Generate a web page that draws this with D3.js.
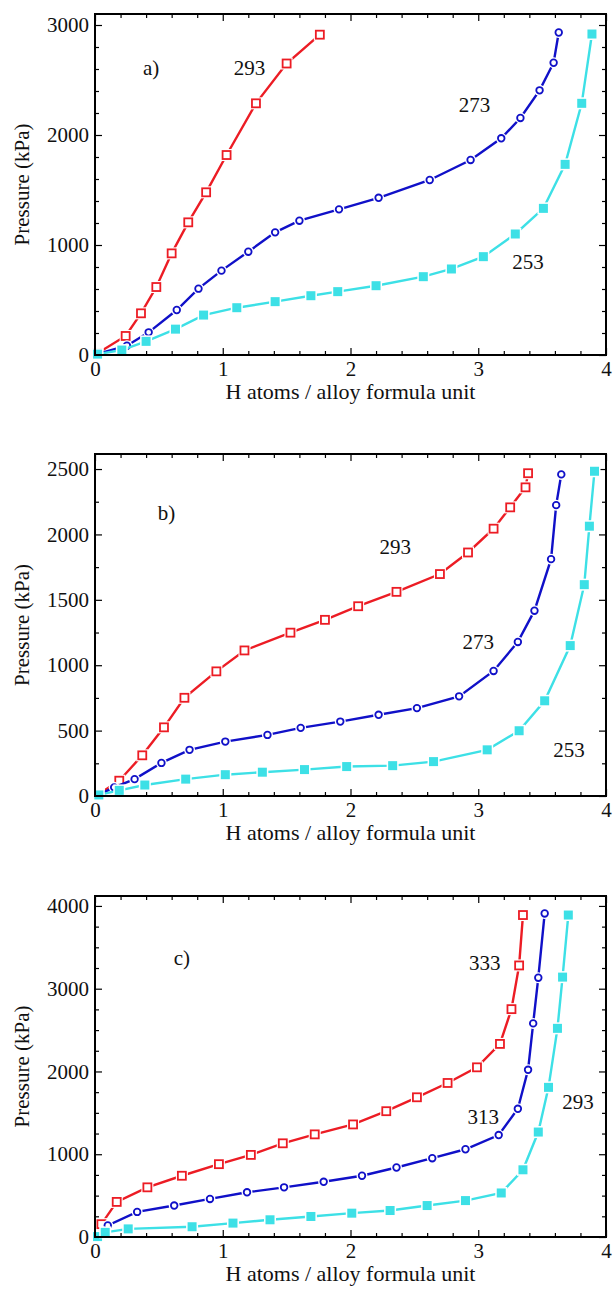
<!DOCTYPE html>
<html>
<head>
<meta charset="utf-8">
<script src="https://cdn.jsdelivr.net/npm/d3@7"></script>
<style>
  body { margin: 0; background: #fff; }
  text { font-family: "Liberation Serif", "DejaVu Serif", serif; }
</style>
</head>
<body>
<div id="d3"></div>
<script>
// panel a
const aRedX = [0.02, 0.24, 0.36, 0.48, 0.60, 0.73, 0.87, 1.03, 1.26, 1.50, 1.76];
const aRedY = [15, 173, 379, 618, 924, 1206, 1479, 1818, 2288, 2650, 2912];
const aBlueX = [0.02, 0.25, 0.42, 0.64, 0.81, 0.99, 1.20, 1.41, 1.60, 1.91, 2.22, 2.62, 2.94, 3.18, 3.33, 3.48, 3.59, 3.63];
const aBlueY = [10, 84, 206, 409, 603, 767, 939, 1115, 1221, 1324, 1429, 1591, 1773, 1970, 2155, 2406, 2657, 2932];
const aCyanX = [0.02, 0.21, 0.40, 0.63, 0.85, 1.11, 1.41, 1.69, 1.90, 2.20, 2.57, 2.79, 3.04, 3.29, 3.51, 3.68, 3.81, 3.89];
const aCyanY = [8, 45, 124, 235, 363, 430, 485, 539, 576, 630, 712, 782, 894, 1100, 1333, 1733, 2288, 2918];

// panel b
const bRedX = [0.03, 0.19, 0.37, 0.54, 0.70, 0.95, 1.17, 1.53, 1.80, 2.06, 2.36, 2.70, 2.92, 3.12, 3.25, 3.37, 3.39];
const bRedY = [15, 117, 311, 525, 751, 953, 1113, 1249, 1347, 1451, 1561, 1697, 1862, 2044, 2207, 2360, 2468];
const bBlueX = [0.03, 0.15, 0.31, 0.52, 0.74, 1.02, 1.35, 1.61, 1.92, 2.22, 2.52, 2.85, 3.12, 3.31, 3.44, 3.57, 3.61, 3.65];
const bBlueY = [10, 66, 129, 253, 353, 416, 467, 521, 569, 621, 672, 762, 956, 1178, 1417, 1811, 2224, 2459];
const bCyanX = [0.03, 0.19, 0.39, 0.71, 1.02, 1.31, 1.64, 1.97, 2.33, 2.65, 3.07, 3.32, 3.52, 3.72, 3.83, 3.87, 3.91];
const bCyanY = [8, 43, 84, 129, 163, 182, 202, 225, 232, 263, 353, 499, 728, 1150, 1616, 2063, 2483];

// panel c
const cRedX = [0.02, 0.05, 0.17, 0.41, 0.68, 0.97, 1.22, 1.47, 1.72, 2.02, 2.28, 2.52, 2.76, 2.99, 3.17, 3.26, 3.32, 3.35];
const cRedY = [10, 155, 424, 600, 740, 880, 992, 1132, 1240, 1360, 1520, 1688, 1861, 2050, 2333, 2753, 3281, 3890];
const cBlueX = [0.02, 0.10, 0.33, 0.62, 0.90, 1.19, 1.48, 1.79, 2.09, 2.36, 2.64, 2.90, 3.16, 3.31, 3.39, 3.43, 3.47, 3.52];
const cBlueY = [10, 140, 303, 380, 460, 540, 600, 667, 740, 840, 952, 1060, 1232, 1549, 2020, 2581, 3133, 3909];
const cCyanX = [0.02, 0.08, 0.26, 0.76, 1.08, 1.37, 1.69, 2.01, 2.31, 2.60, 2.90, 3.18, 3.35, 3.47, 3.55, 3.62, 3.66, 3.705];
const cCyanY = [5, 56, 98, 124, 168, 208, 248, 288, 320, 380, 440, 532, 812, 1268, 1808, 2521, 3140, 3890];

// ticks
const xTicks = [0, 1, 2, 3, 4];
const aYTicks = [0, 1000, 2000, 3000];
const bYTicks = [0, 500, 1000, 1500, 2000, 2500];
const cYTicks = [0, 1000, 2000, 3000, 4000];

// curve labels: [text, x, y]
const aLabels = [["a)", 0.44, 2610], ["293", 1.21, 2610], ["273", 2.97, 2273], ["253", 3.39, 845]];
const bLabels = [["b)", 0.56, 2164], ["293", 2.35, 1904], ["273", 3.0, 1177], ["253", 3.71, 352]];
const cLabels = [["c)", 0.68, 3371], ["333", 3.05, 3310], ["313", 3.04, 1450], ["293", 3.78, 1631]];

const RED = "#ec1c24";
const BLUE = "#1010c8";
const CYAN = "#3de0e6";

const svg = d3.select("#d3")
    .append("svg")
    .attr("width", 616)
    .attr("height", 1292);

function zip(xs, ys) {
    return xs.map((x, i) => [x, ys[i]]);
}

function drawPanel(top, bottom, yMax, yTicks, yMinorStep, series, labels) {
    const left = 95, right = 606;
    const x = d3.scaleLinear().domain([0, 4]).range([left, right]);
    const y = d3.scaleLinear().domain([0, yMax]).range([bottom, top]);

    const g = svg.append("g");

    const xMinor = d3.range(0, 4.001, 0.2).filter(v => Math.abs(v - Math.round(v)) > 1e-6);
    const yMinor = d3.range(0, yMax, yMinorStep).filter(v => !yTicks.includes(v));

    // major + minor ticks on all four sides, pointing in
    g.append("g").attr("transform", `translate(0,${bottom})`)
        .call(d3.axisBottom(x).tickValues(xTicks).tickSize(-7).tickPadding(6).tickFormat(d3.format("d")));
    g.append("g").attr("transform", `translate(0,${bottom})`)
        .call(d3.axisBottom(x).tickValues(xMinor).tickSize(-4).tickFormat(""));
    g.append("g").attr("transform", `translate(0,${top})`)
        .call(d3.axisTop(x).tickValues(xTicks).tickSize(-7).tickFormat(""));
    g.append("g").attr("transform", `translate(0,${top})`)
        .call(d3.axisTop(x).tickValues(xMinor).tickSize(-4).tickFormat(""));

    g.append("g").attr("transform", `translate(${left},0)`)
        .call(d3.axisLeft(y).tickValues(yTicks).tickSize(-7).tickPadding(6).tickFormat(d3.format("d")));
    g.append("g").attr("transform", `translate(${left},0)`)
        .call(d3.axisLeft(y).tickValues(yMinor).tickSize(-4).tickFormat(""));
    g.append("g").attr("transform", `translate(${right},0)`)
        .call(d3.axisRight(y).tickValues(yTicks).tickSize(-7).tickFormat(""));
    g.append("g").attr("transform", `translate(${right},0)`)
        .call(d3.axisRight(y).tickValues(yMinor).tickSize(-4).tickFormat(""));

    g.selectAll(".domain").remove();
    g.selectAll(".tick line").attr("stroke", "#000").attr("stroke-width", 1.2);
    g.selectAll(".tick text")
        .attr("font-family", "Liberation Serif")
        .attr("font-size", 21)
        .attr("fill", "#111");

    const line = d3.line().x(d => x(d[0])).y(d => y(d[1]));

    series.forEach(s => {
        const pts = zip(s.xs, s.ys);
        g.append("path")
            .datum(pts)
            .attr("fill", "none")
            .attr("stroke", s.color)
            .attr("stroke-width", 2.4)
            .attr("d", line);

        // white halo leaves a small gap in the line round each marker
        const m = g.append("g");
        pts.forEach(p => {
            const cx = x(p[0]), cy = y(p[1]);
            if (s.shape === "circle") {
                m.append("circle").attr("cx", cx).attr("cy", cy).attr("r", 5.5).attr("fill", "#fff");
                m.append("circle").attr("cx", cx).attr("cy", cy).attr("r", 3.3)
                    .attr("fill", "#fff").attr("stroke", s.color).attr("stroke-width", 1.8);
            } else if (s.shape === "square") {
                m.append("rect").attr("x", cx - 6).attr("y", cy - 6).attr("width", 12).attr("height", 12).attr("fill", "#fff");
                m.append("rect").attr("x", cx - 4).attr("y", cy - 4).attr("width", 8).attr("height", 8)
                    .attr("fill", "#fff").attr("stroke", s.color).attr("stroke-width", 1.8);
            } else {
                m.append("rect").attr("x", cx - 6).attr("y", cy - 6).attr("width", 12).attr("height", 12).attr("fill", "#fff");
                m.append("rect").attr("x", cx - 4.5).attr("y", cy - 4.5).attr("width", 9).attr("height", 9)
                    .attr("fill", s.color);
            }
        });
    });

    // frame
    g.append("rect")
        .attr("x", left).attr("y", top)
        .attr("width", right - left).attr("height", bottom - top)
        .attr("fill", "none").attr("stroke", "#000").attr("stroke-width", 2);

    labels.forEach(l => {
        g.append("text")
            .attr("x", x(l[1])).attr("y", y(l[2]))
            .attr("text-anchor", "middle")
            .attr("dominant-baseline", "central")
            .attr("font-size", 21)
            .attr("fill", "#111")
            .text(l[0]);
    });

    g.append("text")
        .attr("transform", `translate(22,${(top + bottom) / 2}) rotate(-90)`)
        .attr("text-anchor", "middle")
        .attr("dominant-baseline", "central")
        .attr("font-size", 21)
        .attr("fill", "#111")
        .text("Pressure (kPa)");

    g.append("text")
        .attr("x", (left + right) / 2)
        .attr("y", bottom + 44)
        .attr("text-anchor", "middle")
        .attr("font-size", 22)
        .attr("fill", "#111")
        .text("H atoms / alloy formula unit");
}

drawPanel(14, 355, 3100, aYTicks, 200, [
    { xs: aRedX, ys: aRedY, color: RED, shape: "square" },
    { xs: aBlueX, ys: aBlueY, color: BLUE, shape: "circle" },
    { xs: aCyanX, ys: aCyanY, color: CYAN, shape: "filled" }
], aLabels);

drawPanel(454, 796, 2615, bYTicks, 250, [
    { xs: bRedX, ys: bRedY, color: RED, shape: "square" },
    { xs: bBlueX, ys: bBlueY, color: BLUE, shape: "circle" },
    { xs: bCyanX, ys: bCyanY, color: CYAN, shape: "filled" }
], bLabels);

drawPanel(896, 1237, 4120, cYTicks, 250, [
    { xs: cRedX, ys: cRedY, color: RED, shape: "square" },
    { xs: cBlueX, ys: cBlueY, color: BLUE, shape: "circle" },
    { xs: cCyanX, ys: cCyanY, color: CYAN, shape: "filled" }
], cLabels);
</script>
</body>
</html>
